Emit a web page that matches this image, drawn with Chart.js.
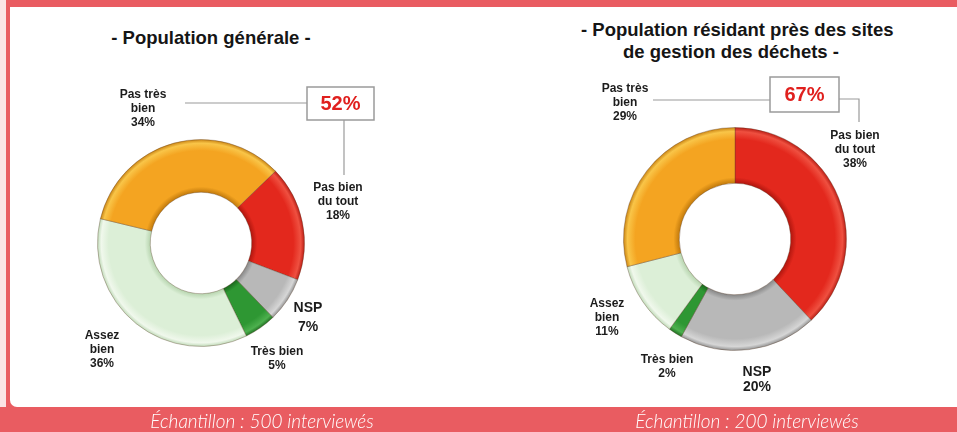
<!DOCTYPE html>
<html>
<head>
<meta charset="utf-8">
<script src="https://cdn.jsdelivr.net/npm/chart.js@4.4.1/dist/chart.umd.min.js"></script>
<style>
  body { margin: 0; width: 957px; height: 432px; overflow: hidden; position: relative;
         background: #E95C61; font-family: "Liberation Sans", Arial, sans-serif; }
  #edge { position: absolute; left: 0; top: 0; width: 6px; height: 407px; background: #fbe4e5; }
  #panel { position: absolute; left: 10px; top: 7px; right: 0; height: 400px;
           background: #fff; border-bottom-left-radius: 7px; }
  .title { position: absolute; font-weight: bold; font-size: 18.5px; color: #151515;
           text-align: center; line-height: 22px; white-space: nowrap; }
  .caption { position: absolute; top: 410px; color: #fff; font-family: Lato, sans-serif;
             font-style: italic; font-weight: 300; font-size: 19px; line-height: 22px;
             white-space: nowrap; transform: translateX(-50%); }
  canvas { position: absolute; top: 0; }
</style>
</head>
<body>
<div id="edge"></div>
<div id="panel"></div>
<div class="title" style="left:61px;width:300px;top:27px;">- Population générale -</div>
<div class="title" style="left:581px;width:300px;top:19px;">- Population résidant près des sites<br>de gestion des déchets -</div>
<canvas id="chartGeneral" width="478" height="432" style="left:0"></canvas>
<canvas id="chartSites" width="479" height="432" style="left:478px"></canvas>
<div class="caption" style="left:262px;">Échantillon : 500 interviewés</div>
<div class="caption" style="left:747px;">Échantillon : 200 interviewés</div>

<script>
// categories, in drawing order (clockwise)
const categories = ["Pas bien\ndu tout", "NSP", "Très bien", "Assez\nbien", "Pas très\nbien"];
const generalValues = [18, 7, 5, 36, 34];
const sitesValues = [38, 20, 2, 11, 29];
// slices added up in the boxed figure
const boxedSlices = [0, 4];

// edge / body / highlight for each slice
const palette = [
    ["#B3170F", "#E3281D", "#EF5040"],
    ["#8A8A8A", "#B8B8B8", "#D6D6D6"],
    ["#1C6A1E", "#2E9733", "#4DB04E"],
    ["#B9D6B1", "#DCEFD7", "#F0F8EC"],
    ["#C47C0D", "#F4A421", "#F9C548"],
];

function shaded(cut) {
    return (c) => {
        const a = c.chart.chartArea;
        const p = palette[c.dataIndex] || palette[0];
        if (!a) return p[1];
        const cx = (a.left + a.right) / 2, cy = (a.top + a.bottom) / 2;
        const r = Math.min(a.right - a.left, a.bottom - a.top) / 2;
        const g = c.chart.ctx.createRadialGradient(cx, cy, r * cut, cx, cy, r);
        g.addColorStop(0, p[0]);
        g.addColorStop(0.1, p[1]);
        g.addColorStop(0.78, p[1]);
        g.addColorStop(0.92, p[2]);
        g.addColorStop(1, p[0]);
        return g;
    };
}

const sliceLabels = {
    id: "sliceLabels",
    afterDraw(chart, args, o) {
        const ctx = chart.ctx;
        const data = chart.data.datasets[0].data;
        ctx.save();
        ctx.textAlign = "center";
        ctx.textBaseline = "middle";
        ctx.fillStyle = "#1c1c1c";
        o.spots.forEach((s, i) => {
            const lines = chart.data.labels[i].split("\n").concat([data[i] + "%"]);
            ctx.font = "bold " + s.size + 'px "Liberation Sans", Arial';
            lines.forEach((t, j) => ctx.fillText(t, s.x, s.y + j * s.lh));
        });

        // leader lines and box
        ctx.strokeStyle = "#9a9a9a";
        ctx.lineWidth = 1.2;
        o.leaders.forEach(pts => {
            ctx.beginPath();
            pts.forEach((p, k) => k ? ctx.lineTo(p[0], p[1]) : ctx.moveTo(p[0], p[1]));
            ctx.stroke();
        });
        const b = o.box;
        ctx.fillStyle = "#fff";
        ctx.fillRect(b.x, b.y, b.w, b.h);
        ctx.lineWidth = 1.5;
        ctx.strokeRect(b.x, b.y, b.w, b.h);
        const total = boxedSlices.reduce((s, k) => s + data[k], 0);
        ctx.fillStyle = "#E0201E";
        ctx.font = 'bold 20px "Liberation Sans", Arial';
        ctx.fillText(total + "%", b.x + b.w / 2, b.y + b.h / 2 + 1);
        ctx.restore();
    }
};

function makeDoughnut(id, values, rotation, cut, padding, labelOpts) {
    new Chart(document.getElementById(id), {
        type: "doughnut",
        data: {
            labels: categories,
            datasets: [{
                data: values,
                backgroundColor: shaded(cut),
                borderColor: "rgba(90,60,40,0.35)",
                borderWidth: 1,
            }],
        },
        options: {
            responsive: false,
            animation: false,
            rotation: rotation,
            cutout: (cut * 100) + "%",
            layout: { padding: padding },
            events: [],
            plugins: {
                legend: { display: false },
                tooltip: { enabled: false },
                sliceLabels: labelOpts,
            },
        },
        plugins: [sliceLabels],
    });
}

makeDoughnut("chartGeneral", generalValues, 46, 0.49,
    { left: 97, right: 173, top: 139, bottom: 85 },
    {
        spots: [
            { x: 338, y: 188, lh: 14, size: 12 },
            { x: 308, y: 308, lh: 19, size: 14 },
            { x: 277, y: 352, lh: 14, size: 12 },
            { x: 102, y: 336, lh: 14, size: 12 },
            { x: 143, y: 95, lh: 14, size: 12 },
        ],
        leaders: [[[185, 103], [307, 103]], [[344, 120], [344, 175]]],
        box: { x: 307, y: 87, w: 67, h: 33 },
    });

makeDoughnut("chartSites", sitesValues, 0, 0.5,
    { left: 145, right: 110, top: 127, bottom: 81 },
    {
        spots: [
            { x: 377, y: 136, lh: 14, size: 12 },
            { x: 279, y: 372, lh: 15, size: 14 },
            { x: 189, y: 360, lh: 14, size: 12 },
            { x: 129, y: 304, lh: 14, size: 12 },
            { x: 147, y: 89, lh: 14, size: 12 },
        ],
        leaders: [[[175, 100], [292, 100]], [[361, 99], [381, 99], [381, 122]]],
        box: { x: 292, y: 77, w: 69, h: 35 },
    });
</script>
</body>
</html>
